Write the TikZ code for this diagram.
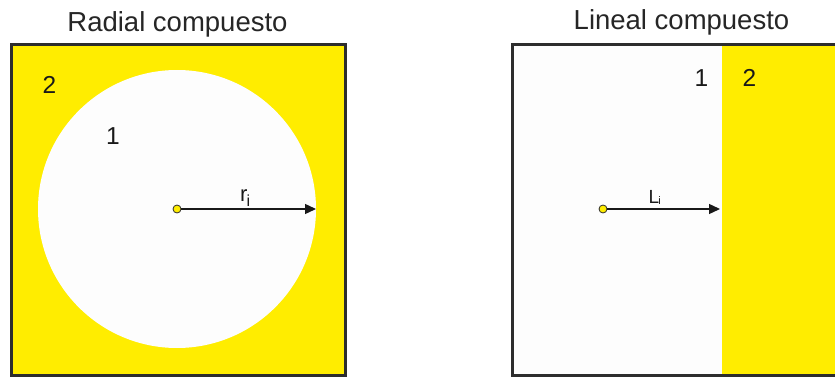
\documentclass[tikz,border=0pt]{standalone}
\usepackage{fontspec}
\setmainfont{Liberation Sans}
\usetikzlibrary{arrows.meta}
\definecolor{fillyellow}{RGB}{255,237,0}
\definecolor{framegray}{RGB}{45,45,45}
\definecolor{paper}{RGB}{253,253,253}
\tikzset{
  frame/.style={draw=framegray, line width=3pt},
  title/.style={font=\fontsize{27.5}{32}\selectfont, text=black!85, inner sep=0pt, anchor=base},
  region/.style={font=\fontsize{24.5}{28}\selectfont, text=black!90, inner sep=0pt, anchor=base},
  origin/.style={circle, draw=framegray, fill=fillyellow, line width=0.8pt, minimum size=8pt, inner sep=0pt},
  vec/.style={draw=black!90, line width=1.4pt, -{Triangle[length=11pt,width=10pt]}},
  sym/.style={text=black!90, inner sep=0pt, anchor=base west},
}
\begin{document}
\begin{tikzpicture}[x=1pt, y=-1pt]
  \useasboundingbox (0,0) rectangle (835,377);
  \fill[white] (0,0) rectangle (835,377);

  % radial composite: yellow square with a white disc
  \fill[fillyellow] (11.5,45) rectangle (345.5,375.5);
  \fill[paper] (177,209) circle[radius=139];
  \draw[frame] (11.5,45) rectangle (345.5,375.5);
  \node[title] (tR) at (177.5,32) {Radial compuesto};
  \node[region] (r2) at (49.5,94) {2};
  \node[region] (r1) at (113,145) {1};
  \node[origin] (oR) at (177,209) {};
  \coordinate (eR) at (316,209);
  \draw[vec] (oR) -- (eR);
  \node[sym, font=\fontsize{22}{24}\selectfont] (lr) at (240,201)
    {r\kern-1pt\raisebox{-5.5pt}{\fontsize{16}{18}\selectfont i}};

  % linear composite: white half and yellow half
  \fill[paper] (512,45) rectangle (722,375.5);
  \fill[fillyellow] (722,45) rectangle (840,375.5);
  \draw[frame] (512,45) rectangle (845,375.5);
  \node[title] (tL) at (681.5,30) {Lineal compuesto};
  \node[region] (l1) at (701.5,87) {1};
  \node[region] (l2) at (749.5,87) {2};
  \node[origin] (oL) at (603,209) {};
  \coordinate (eL) at (720,209);
  \draw[vec] (oL) -- (eL);
  \node[sym, font=\fontsize{19}{22}\selectfont] (ll) at (648.5,203)
    {L\kern-1pt\raisebox{-1pt}{\fontsize{11}{13}\selectfont i}};
\end{tikzpicture}
\end{document}
